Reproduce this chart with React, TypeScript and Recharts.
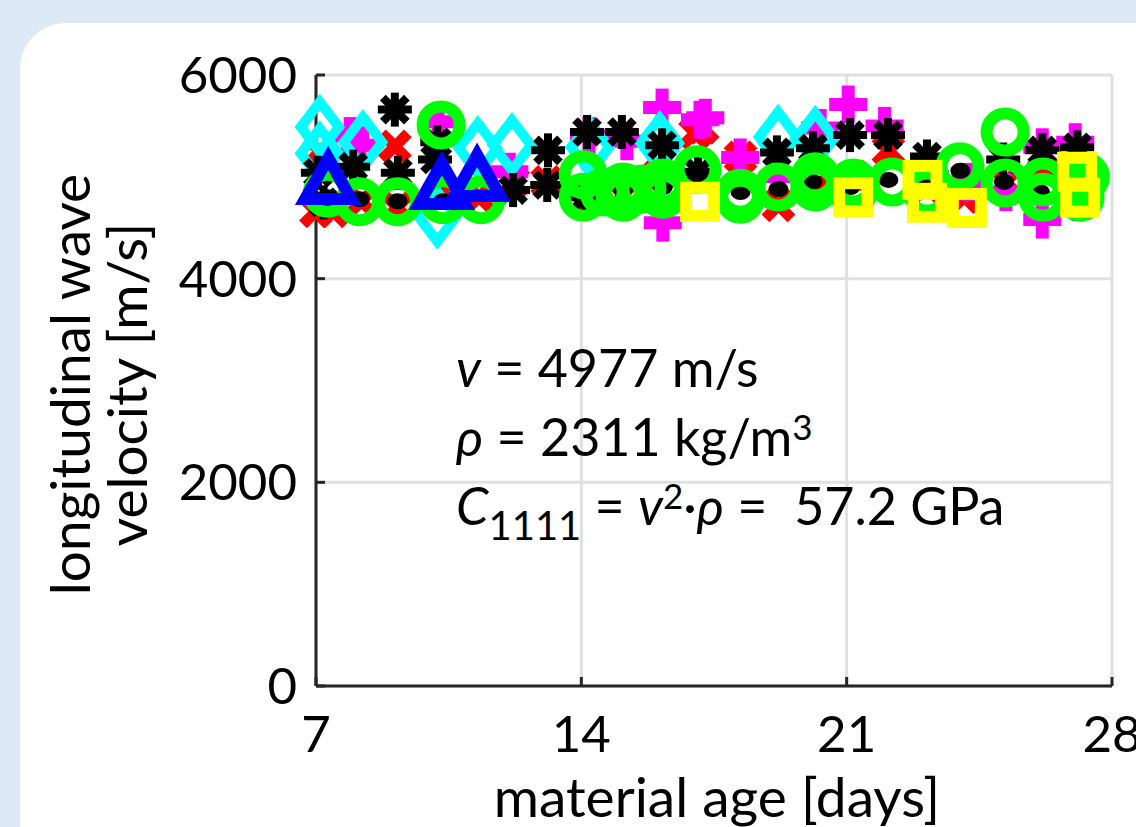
import React from "react";
import {
  ScatterChart, Scatter, XAxis, YAxis, CartesianGrid, Label,
} from "recharts";

// ─────────────────────────────────────────
// Data (material age in days, velocity in m/s)
// ─────────────────────────────────────────
const X_TICKS = [7, 14, 21, 28];
const Y_TICKS = [0, 2000, 4000, 6000];

const redDays = [7.0, 7.45, 7.1, 8.2, 9.08, 9.14, 10.3, 11.3, 12.2, 13.1, 14.1, 15.1, 16.0, 17.0, 17.2, 18.2, 19.2, 20.2, 21.2, 22.1, 23.1, 24.1, 25.2, 26.2, 27.1];
const redVals = [4660, 4660, 5250, 4760, 5300, 4700, 4850, 4800, 4950, 4950, 4780, 4820, 5000, 5430, 5480, 5190, 4720, 4900, 5000, 5260, 4900, 4800, 4950, 5050, 4900];

const magentaDays = [8.16, 7.9, 10.22, 12.1, 14.2, 15.2, 16.13, 16.15, 17.13, 17.27, 18.19, 19.2, 20.3, 21.04, 22.0, 23.2, 24.2, 25.2, 26.16, 26.16, 27.03, 27.1];
const magentaVals = [5310, 5400, 5540, 5050, 5400, 5350, 5680, 4550, 5560, 5580, 5190, 5000, 5480, 5710, 5500, 5000, 4950, 4850, 5290, 4580, 5340, 4750];

const cyanDays = [7.1, 7.1, 8.24, 10.2, 11.27, 12.17, 14.23, 16.07, 19.19, 20.17];
const cyanVals = [5490, 5230, 5340, 4610, 5280, 5310, 5290, 5330, 5390, 5380];

const starDays = [7.05, 7.2, 7.98, 9.08, 9.16, 10.14, 10.2, 12.2, 13.12, 13.1, 14.15, 14.1, 15.07, 16.13, 17.08, 19.16, 20.11, 21.09, 22.09, 23.12, 25.13, 26.16, 27.08];
const starVals = [5040, 4750, 5100, 5660, 5040, 5170, 5340, 4870, 5260, 4920, 5440, 4800, 5440, 5310, 5050, 5240, 5280, 5410, 5410, 5200, 5170, 5260, 5290];

const dotDays = [7.3, 8.15, 9.15, 10.35, 14.05, 14.05, 15.1, 16.15, 17.05, 18.2, 19.2, 20.1, 21.1, 22.1, 23.0, 24.0, 25.15, 26.1, 27.1];
const dotVals = [4800, 4780, 4760, 4760, 4960, 4780, 4880, 4900, 5000, 4850, 4880, 4950, 4900, 4970, 4950, 5060, 4950, 4850, 4880];

const greenDays = [7.3, 8.15, 9.15, 10.3, 10.35, 11.35, 14.05, 14.05, 14.6, 15.1, 15.1, 15.6, 16.15, 16.15, 17.05, 18.19, 18.19, 19.19, 20.17, 20.17, 21.17, 21.17, 22.2, 23.12, 23.99, 25.18, 25.18, 26.18, 26.18, 27.16, 27.16, 27.3];
const greenVals = [4840, 4755, 4755, 5510, 4775, 4775, 5020, 4800, 4850, 4900, 4800, 4880, 4940, 4830, 5070, 4840, 4780, 4900, 4900, 5000, 4940, 4850, 4950, 4850, 5100, 5440, 4940, 4800, 4950, 4900, 4800, 5000];

const yellowDays = [17.13, 21.17, 23.0, 23.12, 24.17, 27.08, 27.16];
const yellowVals = [4755, 4800, 4970, 4745, 4695, 5050, 4795];

const blueDays = [7.32, 10.32, 11.25];
const blueVals = [4940, 4890, 4970];

const zip = (xs: number[], ys: number[]) => xs.map((x, i) => ({ x, y: ys[i] }));

// ─────────────────────────────────────────
// Marker shapes (MATLAB-like)
// ─────────────────────────────────────────
const XMark = ({ cx, cy }: any) => (
  <g stroke="#ff0000" strokeWidth={11}>
    <line x1={cx - 13} y1={cy - 13} x2={cx + 13} y2={cy + 13} />
    <line x1={cx - 13} y1={cy + 13} x2={cx + 13} y2={cy - 13} />
  </g>
);

const PlusMark = ({ cx, cy }: any) => (
  <g stroke="#ff00ff" strokeWidth={13}>
    <line x1={cx - 19} y1={cy} x2={cx + 19} y2={cy} />
    <line x1={cx} y1={cy - 19} x2={cx} y2={cy + 19} />
  </g>
);

const StarMark = ({ cx, cy }: any) => (
  <g stroke="#000" strokeWidth={8}>
    <line x1={cx - 17} y1={cy} x2={cx + 17} y2={cy} />
    <line x1={cx} y1={cy - 17} x2={cx} y2={cy + 17} />
    <line x1={cx - 12} y1={cy - 12} x2={cx + 12} y2={cy + 12} />
    <line x1={cx - 12} y1={cy + 12} x2={cx + 12} y2={cy - 12} />
  </g>
);

const DiamondMark = ({ cx, cy }: any) => (
  <polygon
    points={`${cx},${cy - 25} ${cx + 19},${cy} ${cx},${cy + 25} ${cx - 19},${cy}`}
    fill="none" stroke="#00ffff" strokeWidth={10}
  />
);

const DotMark = ({ cx, cy }: any) => <ellipse cx={cx} cy={cy} rx={10} ry={8} fill="#000" />;

const CircleMark = ({ cx, cy }: any) => (
  <circle cx={cx} cy={cy} r={18.5} fill="none" stroke="#00ff00" strokeWidth={12} />
);

const SquareMark = ({ cx, cy }: any) => (
  <rect x={cx - 14} y={cy - 14} width={28} height={28} fill="none" stroke="#ffff00" strokeWidth={12} />
);

const TriangleMark = ({ cx, cy }: any) => (
  <polygon
    points={`${cx},${cy - 25} ${cx + 23},${cy + 16} ${cx - 23},${cy + 16}`}
    fill="none" stroke="#0000ff" strokeWidth={12} strokeLinejoin="miter"
  />
);

// ─────────────────────────────────────────
// Axis ticks (inward, MATLAB style)
// ─────────────────────────────────────────
const FONT = "Lato, 'Open Sans', sans-serif";
const AXIS_COLOR = "#262626";

const XTick = ({ x, y, payload }: any) => (
  <g>
    <line x1={x} y1={y} x2={x} y2={y - 9} stroke={AXIS_COLOR} strokeWidth={3} />
    <text x={x} y={y + 66} textAnchor="middle" fontSize={51} fontFamily={FONT} fill="#000">
      {payload.value}
    </text>
  </g>
);

const YTick = ({ x, y, payload }: any) => (
  <g>
    <line x1={x} y1={y} x2={x + 9} y2={y} stroke={AXIS_COLOR} strokeWidth={3} />
    <text x={x - 19} y={y + 18} textAnchor="end" fontSize={51} fontFamily={FONT} fill="#000">
      {payload.value}
    </text>
  </g>
);

const series = [
  { name: "red", data: zip(redDays, redVals), shape: XMark },
  { name: "magenta", data: zip(magentaDays, magentaVals), shape: PlusMark },
  { name: "cyan", data: zip(cyanDays, cyanVals), shape: DiamondMark },
  { name: "star", data: zip(starDays, starVals), shape: StarMark },
  { name: "dot", data: zip(dotDays, dotVals), shape: DotMark },
  { name: "green", data: zip(greenDays, greenVals), shape: CircleMark },
  { name: "yellow", data: zip(yellowDays, yellowVals), shape: SquareMark },
  { name: "blue", data: zip(blueDays, blueVals), shape: TriangleMark },
];

export default function App() {
  return (
    <div style={{
      position: "absolute", left: 0, top: 0, width: 1136, height: 827,
      overflow: "hidden", background: "#dde9f5",
    }}>
      <div style={{
        position: "absolute", left: 20, top: 23, width: 1200, height: 900,
        background: "#fff", borderRadius: 46,
      }} />
      <div style={{ position: "absolute", left: 0, top: 0 }}>
        <ScatterChart width={1136} height={827} margin={{ top: 75, right: 24, bottom: 0, left: 216 }}>
          <CartesianGrid stroke="#e0e0e0" strokeWidth={3} />
          <XAxis
            type="number" dataKey="x" domain={[7, 28]} ticks={X_TICKS} interval={0}
            height={141} tickSize={0} tickMargin={0} tick={<XTick />}
            axisLine={{ stroke: AXIS_COLOR, strokeWidth: 3 }}
          >
            <Label content={({ viewBox }: any) => (
              <text x={viewBox.x + viewBox.width / 2 + 3} y={viewBox.y + 131} textAnchor="middle"
                fontSize={55} fontFamily={FONT} fill="#000">
                material age [days]
              </text>
            )} />
          </XAxis>
          <YAxis
            type="number" dataKey="y" domain={[0, 6000]} ticks={Y_TICKS} interval={0}
            width={100} tickSize={0} tickMargin={0} tick={<YTick />}
            axisLine={{ stroke: AXIS_COLOR, strokeWidth: 3 }}
          >
            <Label content={({ viewBox }: any) => {
              const cy = viewBox.y + viewBox.height / 2 + 4;
              return (
                <g fontSize={55} fontFamily={FONT} fill="#000" textAnchor="middle">
                  <text x={90} y={cy} transform={`rotate(-90, 90, ${cy})`}>longitudinal wave</text>
                  <text x={147} y={cy} transform={`rotate(-90, 147, ${cy})`}>velocity [m/s]</text>
                </g>
              );
            }} />
          </YAxis>
          {series.map((s) => (
            <Scatter
              key={s.name}
              data={s.data}
              isAnimationActive={false}
              shape={(p: any) => <s.shape cx={p.cx} cy={p.cy} />}
            />
          ))}
        </ScatterChart>
      </div>

      {/* Annotation */}
      <div style={{
        position: "absolute", left: 456, top: 333, fontFamily: FONT, fontSize: 52,
        color: "#000", lineHeight: "69px", whiteSpace: "nowrap",
      }}>
        <div><i>v</i> = 4977 m/s</div>
        <div><i>ρ</i> = 2311 kg/m<sup style={{ fontSize: 35, verticalAlign: "16px", lineHeight: 0 }}>3</sup></div>
        <div>
          <i>C</i><sub style={{ fontSize: 40, verticalAlign: "-15px", lineHeight: 0 }}>1111</sub>
          {" "}= <i>v</i><sup style={{ fontSize: 35, verticalAlign: "16px", lineHeight: 0 }}>2</sup>·<i>ρ</i> =&nbsp; 57.2 GPa
        </div>
      </div>
    </div>
  );
}
